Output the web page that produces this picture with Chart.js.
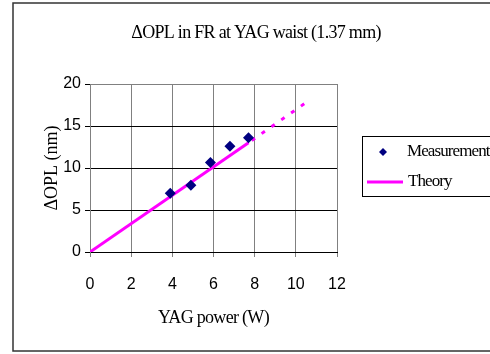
<!DOCTYPE html>
<html>
<head>
<meta charset="utf-8">
<script src="https://cdn.jsdelivr.net/npm/chart.js@4"></script>
<style>
body { margin: 0; background: #fff; }
canvas { display: block; }
</style>
</head>
<body>
<canvas id="opl" width="490" height="354"></canvas>
<script>
// values
const measPower = [3.9, 4.9, 5.85, 6.8, 7.7];
const measOpl = [7.0, 7.95, 10.65, 12.6, 13.6];
const theoryPower = [0, 7.7];
const theoryOpl = [0, 13.0];
const extraPower = [7.7, 10.5];
const extraOpl = [13.0, 17.8];
const xTicks = [0, 2, 4, 6, 8, 10, 12];
const yTicks = [0, 5, 10, 15, 20];

const chartTitle = 'ΔOPL in FR at YAG waist (1.37 mm)';
const xTitle = 'YAG power (W)';
const yTitle = 'ΔOPL (nm)';

const toPts = (xs, ys) => xs.map((x, i) => ({ x: x, y: ys[i] }));

const serif = '"Liberation Serif", "Times New Roman", serif';
const sans = '"Liberation Sans", Arial, sans-serif';

// frame, title, x title and legend, drawn like the old office chart
const decor = {
    id: 'decor',
    afterDraw(chart) {
        const c = chart.ctx;
        const area = chart.chartArea;
        c.save();
        c.strokeStyle = '#333';
        c.lineWidth = 1.5;
        c.strokeRect(13, 3, 490, 348);

        c.fillStyle = '#000';
        c.font = '18px ' + serif;
        c.letterSpacing = '-0.7px';
        c.textAlign = 'center';
        c.textBaseline = 'middle';
        c.fillText(chartTitle, 256, 33);
        c.fillText(xTitle, (area.left + area.right) / 2, 318);

        // legend box
        c.lineWidth = 1;
        c.strokeStyle = '#000';
        c.strokeRect(362.5, 136.5, 140, 60);
        const meas = chart.data.datasets[0];
        const theo = chart.data.datasets[1];
        c.fillStyle = meas.backgroundColor;
        c.beginPath();
        c.moveTo(383, 148);
        c.lineTo(387, 152);
        c.lineTo(383, 156);
        c.lineTo(379, 152);
        c.closePath();
        c.fill();
        c.strokeStyle = theo.borderColor;
        c.lineWidth = 3;
        c.beginPath();
        c.moveTo(367, 182);
        c.lineTo(403, 182);
        c.stroke();
        c.fillStyle = '#000';
        c.font = '17px ' + serif;
        c.letterSpacing = '-0.9px';
        c.textAlign = 'left';
        c.fillText(meas.label, 407, 152);
        c.fillText(theo.label, 408, 182);
        c.restore();
    }
};

const ctx = document.getElementById('opl').getContext('2d');
const oplChart = new Chart(ctx, {
    type: 'scatter',
    data: {
        datasets: [
            {
                label: 'Measurement',
                data: toPts(measPower, measOpl),
                pointStyle: 'rectRot',
                pointRadius: 5.5,
                backgroundColor: '#000080',
                borderColor: '#000080',
                borderWidth: 0,
                order: 0
            },
            {
                label: 'Theory',
                data: toPts(theoryPower, theoryOpl),
                showLine: true,
                pointRadius: 0,
                borderColor: '#ff00ff',
                borderWidth: 3,
                order: 1
            },
            {
                label: 'Theory (extrapolated)',
                data: toPts(extraPower, extraOpl),
                showLine: true,
                pointRadius: 0,
                borderColor: '#ff00ff',
                borderWidth: 3,
                borderDash: [4, 8],
                borderDashOffset: 8,
                order: 1
            }
        ]
    },
    options: {
        responsive: false,
        animation: false,
        layout: {
            padding: { left: 13, right: 153, top: 84, bottom: 0 }
        },
        scales: {
            x: {
                type: 'linear',
                min: 0,
                max: 12,
                afterBuildTicks: scale => { scale.ticks = xTicks.map(v => ({ value: v })); },
                afterFit: scale => { scale.height = 102; },
                ticks: {
                    color: '#000',
                    font: { family: sans, size: 16 },
                    padding: 18,
                    maxRotation: 0
                },
                grid: {
                    color: '#808080',
                    tickLength: 5,
                    tickColor: '#808080'
                },
                border: { color: '#000', width: 1 }
            },
            y: {
                min: 0,
                max: 20,
                afterBuildTicks: scale => { scale.ticks = yTicks.map(v => ({ value: v })); },
                afterFit: scale => { scale.width = 77; },
                ticks: {
                    color: '#000',
                    font: { family: sans, size: 16 },
                    padding: 4
                },
                grid: {
                    color: c => (c.tick && c.tick.value === 20 ? '#808080' : '#000'),
                    tickLength: 5,
                    tickColor: '#000'
                },
                border: { color: '#808080', width: 1 },
                title: {
                    display: true,
                    text: yTitle,
                    color: '#000',
                    font: { family: serif, size: 18 },
                    padding: { top: 28, bottom: 0 }
                }
            }
        },
        plugins: {
            legend: { display: false },
            tooltip: { enabled: false }
        }
    },
    plugins: [decor]
});
</script>
</body>
</html>
